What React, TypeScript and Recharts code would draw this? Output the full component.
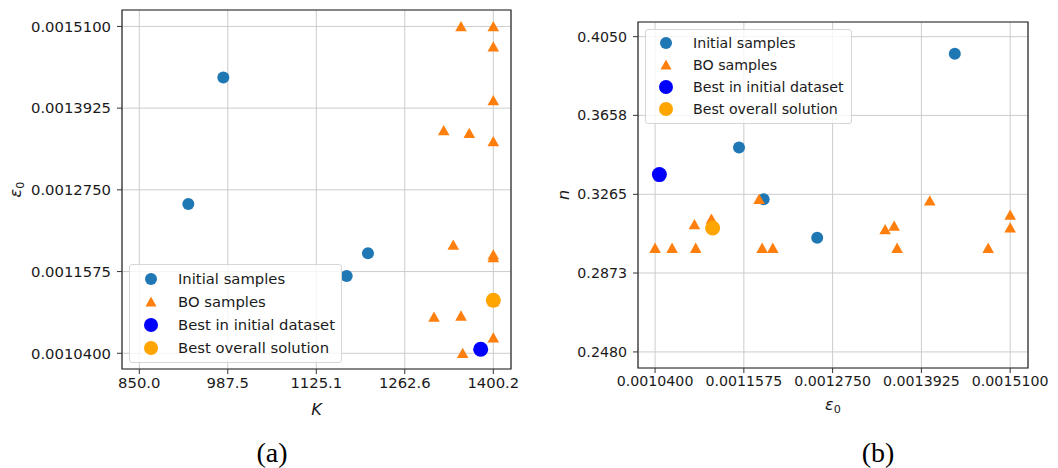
// Bayesian optimisation samples: K vs eps0 (a) and eps0 vs n (b)

import { ScatterChart, Scatter, XAxis, YAxis, CartesianGrid, ReferenceArea, Legend } from "recharts";

// initial samples
const initK = [980.6, 926.2, 1205.4, 1172.3];
const initEps = [0.0014367, 0.0012546, 0.0011837, 0.0011511];
const initN = [0.3965, 0.3049, 0.324, 0.3498];

// BO samples
const boK = [1352.6, 1400.2, 1308.0, 1350.0, 1400.2, 1400.2, 1400.2, 1338.0, 1400.2, 1362.9, 1323.1, 1400.2, 1400.2, 1350.0, 1400.2];
const boEps = [0.00104, 0.0010625, 0.0010921, 0.0010938, 0.0011146, 0.0011777, 0.0011817, 0.0011958, 0.0013445, 0.0013564, 0.0013604, 0.0014036, 0.0014809, 0.00151, 0.00151];
const boN = [0.2997, 0.2997, 0.3115, 0.2997, 0.3142, 0.324, 0.2997, 0.2997, 0.309, 0.3107, 0.2997, 0.3233, 0.2997, 0.3162, 0.3099];

// best points
const bestInitK = [1380.6];
const bestInitEps = [0.0010457];
const bestInitN = [0.3363];
const bestAllK = [1400.2];
const bestAllEps = [0.0011162];
const bestAllN = [0.3097];

const kTicks = [850.0, 987.5, 1125.1, 1262.6, 1400.2];
const epsTicks = [0.00104, 0.0011575, 0.001275, 0.0013925, 0.00151];
const nTicks = [0.248, 0.2873, 0.3265, 0.3658, 0.405];

const seriesNames = ["Initial samples", "BO samples", "Best in initial dataset", "Best overall solution"];
const colors = ["#1f77b4", "#ff7f0e", "#0000ff", "#ffa500"];

const toPts = (xs: number[], ys: number[]) => xs.map((x, i) => ({ x, y: ys[i] }));

const FONT = "'DejaVu Sans', sans-serif";
const SERIF = "'Liberation Serif', 'Times New Roman', serif";

const circle = (r: number, fill: string) => (p: any) => <circle cx={p.cx} cy={p.cy} r={r} fill={fill} />;
const triangle = (fill: string) => (p: any) => (
  <polygon points={`${p.cx},${p.cy - 5.5} ${p.cx - 5.8},${p.cy + 4.8} ${p.cx + 5.8},${p.cy + 4.8}`} fill={fill} />
);

function Marker({ i }: { i: number }) {
  return (
    <svg width={16} height={16} style={{ display: "block" }}>
      {i === 1 ? (
        <polygon points="8,2.5 2.5,12.5 13.5,12.5" fill={colors[1]} />
      ) : (
        <circle cx={8} cy={8} r={i === 0 ? 6 : 7} fill={colors[i]} />
      )}
    </svg>
  );
}

function LegendBox({ left, top, width, rowH, fontSize, markerX, textX }: any) {
  return (
    <div
      style={{
        position: "absolute",
        left,
        top,
        width,
        padding: "2px 0 3px 0",
        background: "rgba(255,255,255,0.8)",
        border: "1px solid #d6d6d6",
        borderRadius: 3,
        fontFamily: FONT,
        fontSize,
        color: "#1a1a1a",
        boxSizing: "border-box",
      }}
    >
      {seriesNames.map((name, i) => (
        <div key={name} style={{ height: rowH, position: "relative", display: "flex", alignItems: "center" }}>
          <div style={{ position: "absolute", left: markerX - 8 }}>
            <Marker i={i} />
          </div>
          <span style={{ position: "absolute", left: textX, whiteSpace: "nowrap" }}>{name}</span>
        </div>
      ))}
    </div>
  );
}

function EpsLabel({ viewBox, rotate, dx, dy, size }: any) {
  const vb = viewBox || {};
  if (rotate) {
    const x = vb.x + dx;
    const y = vb.y + vb.height / 2;
    return (
      <text x={x} y={y} transform={`rotate(-90 ${x} ${y})`} textAnchor="middle" fontFamily={FONT} fontSize={size} fill="#1a1a1a" fontStyle="italic">
        ε<tspan fontSize={size * 0.7} dy={3} fontStyle="normal">0</tspan>
      </text>
    );
  }
  const x = vb.x + vb.width / 2;
  const y = vb.y + dy;
  return (
    <text x={x} y={y} textAnchor="middle" fontFamily={FONT} fontSize={size} fill="#1a1a1a" fontStyle="italic">
      ε<tspan fontSize={size * 0.7} dy={3} fontStyle="normal">0</tspan>
    </text>
  );
}

function ItalicLabel({ viewBox, text, rotate, dx, dy, size }: any) {
  const vb = viewBox || {};
  const x = rotate ? vb.x + dx : vb.x + vb.width / 2;
  const y = rotate ? vb.y + vb.height / 2 : vb.y + dy;
  return (
    <text
      x={x}
      y={y}
      transform={rotate ? `rotate(-90 ${x} ${y})` : undefined}
      textAnchor="middle"
      dominantBaseline="central"
      fontFamily={FONT}
      fontSize={size}
      fontStyle="italic"
      fill="#1a1a1a"
    >
      {text}
    </text>
  );
}

export default function App() {
  const tickA = { fontFamily: FONT, fontSize: 14.8, fill: "#1a1a1a" };
  const tickB = { fontFamily: FONT, fontSize: 14.2, fill: "#1a1a1a" };
  const line = { stroke: "#333" };
  const kDom = [823.1, 1427.7];
  const epsDom = [0.0010174, 0.0015336];
  const nDom = [0.24, 0.4123];

  return (
    <div style={{ position: "absolute", left: 0, top: 0, width: 1058, height: 468, background: "#fff" }}>
      <div style={{ position: "absolute", left: 0, top: 0 }}>
        <ScatterChart width={530} height={420} margin={{ top: 10, right: 19, bottom: 0, left: 0 }}>
          <CartesianGrid stroke="#cccccc" strokeWidth={1} />
          <XAxis
            type="number"
            dataKey="x"
            domain={kDom}
            ticks={kTicks}
            allowDataOverflow
            height={51}
            tick={tickA}
            tickSize={5}
            tickMargin={3}
            tickLine={line}
            axisLine={false}
            tickFormatter={(v: number) => v.toFixed(1)}
            label={<ItalicLabel text="K" dy={40} size={16} />}
          />
          <YAxis
            type="number"
            dataKey="y"
            domain={epsDom}
            ticks={epsTicks}
            allowDataOverflow
            width={122}
            tick={tickA}
            tickSize={5}
            tickMargin={6}
            tickLine={line}
            axisLine={false}
            tickFormatter={(v: number) => v.toFixed(7)}
            label={<EpsLabel rotate dx={21} size={16} />}
          />
          <ReferenceArea x1={kDom[0]} x2={kDom[1]} y1={epsDom[0]} y2={epsDom[1]} fill="none" stroke="#262626" strokeWidth={1.2} />
          <Scatter name={seriesNames[0]} data={toPts(initK, initEps)} shape={circle(6, colors[0])} isAnimationActive={false} />
          <Scatter name={seriesNames[1]} data={toPts(boK, boEps)} shape={triangle(colors[1])} isAnimationActive={false} />
          <Scatter name={seriesNames[2]} data={toPts(bestInitK, bestInitEps)} shape={circle(7.5, colors[2])} isAnimationActive={false} />
          <Scatter name={seriesNames[3]} data={toPts(bestAllK, bestAllEps)} shape={circle(7.5, colors[3])} isAnimationActive={false} />
          <Legend
            layout="vertical"
            align="center"
            verticalAlign="middle"
            wrapperStyle={{ left: 0, top: 0, width: 0, height: 0 }}
            content={() => <LegendBox left={129} top={264} width={213} rowH={23} fontSize={14.8} markerX={21} textX={48} />}
          />
        </ScatterChart>
      </div>

      <div style={{ position: "absolute", left: 530, top: 0 }}>
        <ScatterChart width={528} height={420} margin={{ top: 22, right: 30, bottom: 0, left: 0 }}>
          <CartesianGrid stroke="#cccccc" strokeWidth={1} />
          <XAxis
            type="number"
            dataKey="x"
            domain={epsDom}
            ticks={epsTicks}
            allowDataOverflow
            height={52}
            tick={tickB}
            tickSize={5}
            tickMargin={3}
            tickLine={line}
            axisLine={false}
            tickFormatter={(v: number) => v.toFixed(7)}
            label={<EpsLabel dy={42} size={16} />}
          />
          <YAxis
            type="number"
            dataKey="y"
            domain={nDom}
            ticks={nTicks}
            allowDataOverflow
            width={108}
            tick={tickB}
            tickSize={5}
            tickMargin={6}
            tickLine={line}
            axisLine={false}
            tickFormatter={(v: number) => v.toFixed(4)}
            label={<ItalicLabel text="n" rotate dx={33} size={16} />}
          />
          <ReferenceArea x1={epsDom[0]} x2={epsDom[1]} y1={nDom[0]} y2={nDom[1]} fill="none" stroke="#262626" strokeWidth={1.2} />
          <Scatter name={seriesNames[0]} data={toPts(initEps, initN)} shape={circle(6, colors[0])} isAnimationActive={false} />
          <Scatter name={seriesNames[1]} data={toPts(boEps, boN)} shape={triangle(colors[1])} isAnimationActive={false} />
          <Scatter name={seriesNames[2]} data={toPts(bestInitEps, bestInitN)} shape={circle(7.5, colors[2])} isAnimationActive={false} />
          <Scatter name={seriesNames[3]} data={toPts(bestAllEps, bestAllN)} shape={circle(7.5, colors[3])} isAnimationActive={false} />
          <Legend
            layout="vertical"
            align="center"
            verticalAlign="middle"
            wrapperStyle={{ left: 0, top: 0, width: 0, height: 0 }}
            content={() => <LegendBox left={115} top={29} width={207} rowH={22} fontSize={14.2} markerX={20} textX={47} />}
          />
        </ScatterChart>
      </div>

      <div style={{ position: "absolute", left: 222, top: 437, width: 100, textAlign: "center", fontFamily: SERIF, fontSize: 28 }}>
        (a)
      </div>
      <div style={{ position: "absolute", left: 828, top: 437, width: 100, textAlign: "center", fontFamily: SERIF, fontSize: 28 }}>
        (b)
      </div>
    </div>
  );
}
